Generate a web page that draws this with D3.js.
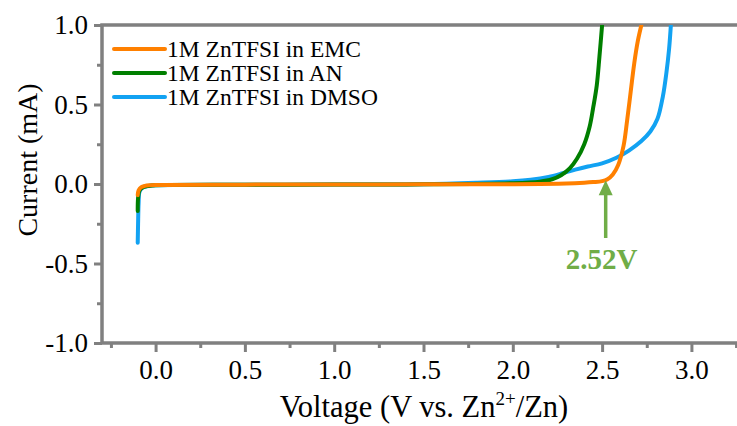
<!DOCTYPE html>
<html>
<head>
<meta charset="utf-8">
<script src="https://cdn.jsdelivr.net/npm/d3@7"></script>
<style>
  body { margin: 0; background: #fff; }
  text { font-family: "Liberation Serif", "Times New Roman", serif; }
</style>
</head>
<body>
<div id="chart"></div>
<script>
// LSV curves, voltage (V vs Zn2+/Zn) vs current (mA)
var emcV = [-0.10, -0.095, -0.08, -0.06, -0.03, 0.0, 0.5, 1.0, 1.5, 2.0, 2.3, 2.4, 2.45, 2.5, 2.53, 2.56, 2.59, 2.62, 2.64, 2.66, 2.68, 2.70, 2.72];
var emcI = [-0.07, -0.04, -0.02, -0.012, -0.008, -0.006, -0.004, -0.003, -0.002, -0.001, 0.003, 0.008, 0.012, 0.018, 0.03, 0.06, 0.12, 0.24, 0.40, 0.58, 0.76, 0.90, 1.0];

var anV = [-0.10, -0.098, -0.09, -0.07, -0.04, 0.0, 0.5, 1.0, 1.5, 2.0, 2.15, 2.22, 2.27, 2.32, 2.36, 2.40, 2.43, 2.45, 2.47, 2.485, 2.50];
var anI = [-0.17, -0.09, -0.04, -0.02, -0.012, -0.008, -0.005, -0.003, -0.002, 0.005, 0.015, 0.03, 0.055, 0.10, 0.16, 0.25, 0.36, 0.48, 0.62, 0.80, 1.0];

var dmsoV = [-0.10, -0.098, -0.095, -0.09, -0.075, -0.05, -0.02, 0.0, 0.5, 1.0, 1.5, 1.8, 2.0, 2.1, 2.2, 2.28, 2.35, 2.42, 2.5, 2.58, 2.65, 2.72, 2.77, 2.81, 2.84, 2.86, 2.875, 2.885];
var dmsoI = [-0.37, -0.25, -0.12, -0.05, -0.025, -0.015, -0.01, -0.008, -0.005, -0.003, -0.001, 0.008, 0.017, 0.027, 0.045, 0.068, 0.09, 0.11, 0.13, 0.165, 0.21, 0.27, 0.33, 0.41, 0.55, 0.70, 0.85, 1.0];

var seriesNames = ["1M ZnTFSI in EMC", "1M ZnTFSI in AN", "1M ZnTFSI in DMSO"];
var seriesColors = ["#ff8000", "#007f00", "#12a2f2"];
var xTicks = [0.0, 0.5, 1.0, 1.5, 2.0, 2.5, 3.0];
var yTicks = [-1.0, -0.5, 0.0, 0.5, 1.0];
var onsetV = 2.52, onsetI = 0.03;

var width = 737, height = 426;
var margin = { left: 102, right: -8, top: 25, bottom: 83 };

var svg = d3.select("#chart").append("svg")
    .attr("width", width)
    .attr("height", height);

var x = d3.scaleLinear().domain([-0.3, 3.3]).range([margin.left, width - margin.right]);
var y = d3.scaleLinear().domain([-1.0, 1.0]).range([height - margin.bottom, margin.top]);

var axisColor = "#808080";

// minor ticks
var xMinor = d3.range(-0.25, 3.3, 0.5);
var yMinor = d3.range(-0.75, 1.0, 0.5);

var gx = svg.append("g").attr("transform", "translate(0," + y(-1.0) + ")");
gx.call(d3.axisBottom(x).tickValues(xMinor).tickSize(5).tickFormat(""));
gx.selectAll(".tick line").attr("stroke", axisColor).attr("stroke-width", 3);
var gx2 = svg.append("g").attr("transform", "translate(0," + y(-1.0) + ")");
gx2.call(d3.axisBottom(x).tickValues(xTicks).tickSize(9).tickPadding(8).tickFormat(d3.format(".1f")));
gx2.selectAll(".tick line").attr("stroke", axisColor).attr("stroke-width", 3);
gx2.selectAll(".tick text").attr("font-size", 27).attr("fill", "#000")
    .style("font-family", "Liberation Serif");
svg.selectAll(".domain").remove();

var gy = svg.append("g").attr("transform", "translate(" + x(-0.3) + ",0)");
gy.call(d3.axisLeft(y).tickValues(yMinor).tickSize(5).tickFormat(""));
gy.selectAll(".tick line").attr("stroke", axisColor).attr("stroke-width", 3);
var gy2 = svg.append("g").attr("transform", "translate(" + x(-0.3) + ",0)");
gy2.call(d3.axisLeft(y).tickValues(yTicks).tickSize(8).tickPadding(6).tickFormat(d3.format(".1f")));
gy2.selectAll(".tick line").attr("stroke", axisColor).attr("stroke-width", 3);
gy2.selectAll(".tick text").attr("font-size", 27).attr("fill", "#000")
    .style("font-family", "Liberation Serif")
    .text(function(d) { return d3.format(".1f")(d).replace("−", "-"); });
svg.selectAll(".domain").remove();

// frame
svg.append("path")
    .attr("d", "M" + x(-0.3) + "," + y(-1.0) + "V" + y(1.0) + "H" + (width + 5)
        + "M" + x(-0.3) + "," + y(-1.0) + "H" + (width + 5))
    .attr("fill", "none")
    .attr("stroke", axisColor)
    .attr("stroke-width", 3.5);

// curves
var clip = svg.append("clipPath").attr("id", "plotclip").append("rect")
    .attr("x", x(-0.3)).attr("y", y(1.0))
    .attr("width", width - x(-0.3)).attr("height", y(-1.0) - y(1.0));

var lineCurve = d3.line()
    .curve(d3.curveCatmullRom.alpha(0.5))
    .x(function(d) { return x(d[0]); })
    .y(function(d) { return y(d[1]); });

var curveData = [
    { v: dmsoV, i: dmsoI, c: seriesColors[2] },
    { v: anV, i: anI, c: seriesColors[1] },
    { v: emcV, i: emcI, c: seriesColors[0] }
];

curveData.forEach(function(s) {
    svg.append("path")
        .datum(d3.zip(s.v, s.i))
        .attr("clip-path", "url(#plotclip)")
        .attr("fill", "none")
        .attr("stroke", s.c)
        .attr("stroke-width", 4)
        .attr("stroke-linejoin", "round")
        .attr("stroke-linecap", "round")
        .attr("d", lineCurve);
});

// legend
var legend = svg.append("g");
seriesNames.forEach(function(n, k) {
    var ly = 49 + k * 24;
    legend.append("line")
        .attr("x1", 114).attr("x2", 165)
        .attr("y1", ly).attr("y2", ly)
        .attr("stroke", seriesColors[k])
        .attr("stroke-width", 4)
        .attr("stroke-linecap", "round");
    legend.append("text")
        .attr("x", 167).attr("y", ly + 8)
        .attr("font-size", 23.5)
        .text(n);
});

// onset annotation
var ann = "#70ad47";
var ax = x(onsetV);
svg.append("line")
    .attr("x1", ax).attr("x2", ax)
    .attr("y1", y(onsetI) + 14).attr("y2", 238)
    .attr("stroke", ann).attr("stroke-width", 3.5);
svg.append("path")
    .attr("d", "M" + ax + "," + (y(onsetI) + 1) + "L" + (ax - 7) + "," + (y(onsetI) + 16)
        + "L" + (ax + 7) + "," + (y(onsetI) + 16) + "Z")
    .attr("fill", ann);
svg.append("text")
    .attr("x", ax - 4).attr("y", 269)
    .attr("text-anchor", "middle")
    .attr("font-size", 29)
    .attr("font-weight", "bold")
    .attr("fill", ann)
    .text(onsetV.toFixed(2) + "V");

// axis titles
var xt = svg.append("text")
    .attr("x", 424).attr("y", 417)
    .attr("text-anchor", "middle")
    .attr("font-size", 30.5);
xt.append("tspan").text("Voltage (V vs. Zn");
xt.append("tspan").attr("font-size", 19).attr("dy", -12).text("2+");
xt.append("tspan").attr("dy", 12).text("/Zn)");

svg.append("text")
    .attr("transform", "translate(37,160) rotate(-90)")
    .attr("text-anchor", "middle")
    .attr("font-size", 28)
    .text("Current (mA)");
</script>
</body>
</html>
